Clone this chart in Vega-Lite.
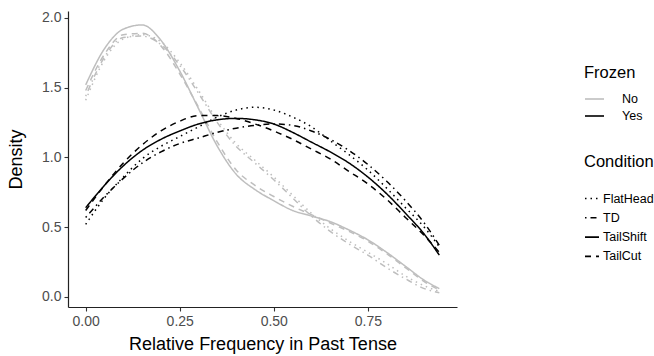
{
  "$schema": "https://vega.github.io/schema/vega-lite/v6.json",
  "width": 389,
  "height": 296,
  "autosize": {"type": "none"},
  "padding": {"left": 68, "top": 11, "right": 197, "bottom": 49},
  "background": "white",
  "config": {
    "view": {"stroke": null},
    "font": "Liberation Sans",
    "axis": {"grid": false, "domainColor": "#222222", "domainWidth": 1.2, "tickColor": "#333333", "tickWidth": 1.1, "tickSize": 4, "labelColor": "#4d4d4d", "labelFontSize": 14, "labelFont": "Liberation Sans", "titleFont": "Liberation Sans", "titleFontSize": 18, "titleFontWeight": "normal", "titleColor": "#000000", "labelPadding": 3},
    "legend": {"titleFont": "Liberation Sans", "labelFont": "Liberation Sans", "titleFontSize": 16.5, "titleFontWeight": "normal", "titleColor": "#000000", "labelFontSize": 12.5, "labelColor": "#000000", "symbolType": "stroke", "symbolStrokeWidth": 1.6}
  },
  "data": {"values": [
    {"x":0,"y":1.52,"Frozen":"No","Condition":"TailShift"},{"x":0.05,"y":1.78,"Frozen":"No","Condition":"TailShift"},{"x":0.1,"y":1.92,"Frozen":"No","Condition":"TailShift"},{"x":0.15,"y":1.95,"Frozen":"No","Condition":"TailShift"},{"x":0.2,"y":1.84,"Frozen":"No","Condition":"TailShift"},{"x":0.25,"y":1.62,"Frozen":"No","Condition":"TailShift"},{"x":0.3,"y":1.35,"Frozen":"No","Condition":"TailShift"},{"x":0.35,"y":1.08,"Frozen":"No","Condition":"TailShift"},{"x":0.4,"y":0.88,"Frozen":"No","Condition":"TailShift"},{"x":0.45,"y":0.77,"Frozen":"No","Condition":"TailShift"},{"x":0.5,"y":0.69,"Frozen":"No","Condition":"TailShift"},{"x":0.55,"y":0.62,"Frozen":"No","Condition":"TailShift"},{"x":0.6,"y":0.58,"Frozen":"No","Condition":"TailShift"},{"x":0.65,"y":0.54,"Frozen":"No","Condition":"TailShift"},{"x":0.7,"y":0.48,"Frozen":"No","Condition":"TailShift"},{"x":0.75,"y":0.41,"Frozen":"No","Condition":"TailShift"},{"x":0.8,"y":0.32,"Frozen":"No","Condition":"TailShift"},{"x":0.85,"y":0.22,"Frozen":"No","Condition":"TailShift"},{"x":0.9,"y":0.12,"Frozen":"No","Condition":"TailShift"},{"x":0.94,"y":0.06,"Frozen":"No","Condition":"TailShift"},
    {"x":0,"y":1.48,"Frozen":"No","Condition":"TailCut"},{"x":0.05,"y":1.74,"Frozen":"No","Condition":"TailCut"},{"x":0.1,"y":1.88,"Frozen":"No","Condition":"TailCut"},{"x":0.15,"y":1.89,"Frozen":"No","Condition":"TailCut"},{"x":0.2,"y":1.8,"Frozen":"No","Condition":"TailCut"},{"x":0.25,"y":1.6,"Frozen":"No","Condition":"TailCut"},{"x":0.3,"y":1.36,"Frozen":"No","Condition":"TailCut"},{"x":0.35,"y":1.11,"Frozen":"No","Condition":"TailCut"},{"x":0.4,"y":0.91,"Frozen":"No","Condition":"TailCut"},{"x":0.45,"y":0.8,"Frozen":"No","Condition":"TailCut"},{"x":0.5,"y":0.72,"Frozen":"No","Condition":"TailCut"},{"x":0.55,"y":0.65,"Frozen":"No","Condition":"TailCut"},{"x":0.6,"y":0.59,"Frozen":"No","Condition":"TailCut"},{"x":0.65,"y":0.53,"Frozen":"No","Condition":"TailCut"},{"x":0.7,"y":0.47,"Frozen":"No","Condition":"TailCut"},{"x":0.75,"y":0.4,"Frozen":"No","Condition":"TailCut"},{"x":0.8,"y":0.31,"Frozen":"No","Condition":"TailCut"},{"x":0.85,"y":0.21,"Frozen":"No","Condition":"TailCut"},{"x":0.9,"y":0.11,"Frozen":"No","Condition":"TailCut"},{"x":0.94,"y":0.05,"Frozen":"No","Condition":"TailCut"},
    {"x":0,"y":1.41,"Frozen":"No","Condition":"FlatHead"},{"x":0.05,"y":1.7,"Frozen":"No","Condition":"FlatHead"},{"x":0.1,"y":1.85,"Frozen":"No","Condition":"FlatHead"},{"x":0.15,"y":1.88,"Frozen":"No","Condition":"FlatHead"},{"x":0.2,"y":1.83,"Frozen":"No","Condition":"FlatHead"},{"x":0.25,"y":1.68,"Frozen":"No","Condition":"FlatHead"},{"x":0.3,"y":1.48,"Frozen":"No","Condition":"FlatHead"},{"x":0.35,"y":1.27,"Frozen":"No","Condition":"FlatHead"},{"x":0.4,"y":1.1,"Frozen":"No","Condition":"FlatHead"},{"x":0.45,"y":0.98,"Frozen":"No","Condition":"FlatHead"},{"x":0.5,"y":0.86,"Frozen":"No","Condition":"FlatHead"},{"x":0.55,"y":0.73,"Frozen":"No","Condition":"FlatHead"},{"x":0.6,"y":0.6,"Frozen":"No","Condition":"FlatHead"},{"x":0.65,"y":0.49,"Frozen":"No","Condition":"FlatHead"},{"x":0.7,"y":0.4,"Frozen":"No","Condition":"FlatHead"},{"x":0.75,"y":0.32,"Frozen":"No","Condition":"FlatHead"},{"x":0.8,"y":0.24,"Frozen":"No","Condition":"FlatHead"},{"x":0.85,"y":0.15,"Frozen":"No","Condition":"FlatHead"},{"x":0.9,"y":0.08,"Frozen":"No","Condition":"FlatHead"},{"x":0.94,"y":0.04,"Frozen":"No","Condition":"FlatHead"},
    {"x":0,"y":1.44,"Frozen":"No","Condition":"TD"},{"x":0.05,"y":1.72,"Frozen":"No","Condition":"TD"},{"x":0.1,"y":1.86,"Frozen":"No","Condition":"TD"},{"x":0.15,"y":1.87,"Frozen":"No","Condition":"TD"},{"x":0.2,"y":1.81,"Frozen":"No","Condition":"TD"},{"x":0.25,"y":1.66,"Frozen":"No","Condition":"TD"},{"x":0.3,"y":1.46,"Frozen":"No","Condition":"TD"},{"x":0.35,"y":1.25,"Frozen":"No","Condition":"TD"},{"x":0.4,"y":1.08,"Frozen":"No","Condition":"TD"},{"x":0.45,"y":0.96,"Frozen":"No","Condition":"TD"},{"x":0.5,"y":0.84,"Frozen":"No","Condition":"TD"},{"x":0.55,"y":0.71,"Frozen":"No","Condition":"TD"},{"x":0.6,"y":0.58,"Frozen":"No","Condition":"TD"},{"x":0.65,"y":0.47,"Frozen":"No","Condition":"TD"},{"x":0.7,"y":0.38,"Frozen":"No","Condition":"TD"},{"x":0.75,"y":0.3,"Frozen":"No","Condition":"TD"},{"x":0.8,"y":0.21,"Frozen":"No","Condition":"TD"},{"x":0.85,"y":0.13,"Frozen":"No","Condition":"TD"},{"x":0.9,"y":0.06,"Frozen":"No","Condition":"TD"},{"x":0.94,"y":0.03,"Frozen":"No","Condition":"TD"},
    {"x":0,"y":0.64,"Frozen":"Yes","Condition":"TailShift"},{"x":0.05,"y":0.8,"Frozen":"Yes","Condition":"TailShift"},{"x":0.1,"y":0.94,"Frozen":"Yes","Condition":"TailShift"},{"x":0.15,"y":1.05,"Frozen":"Yes","Condition":"TailShift"},{"x":0.2,"y":1.13,"Frozen":"Yes","Condition":"TailShift"},{"x":0.25,"y":1.19,"Frozen":"Yes","Condition":"TailShift"},{"x":0.3,"y":1.24,"Frozen":"Yes","Condition":"TailShift"},{"x":0.35,"y":1.27,"Frozen":"Yes","Condition":"TailShift"},{"x":0.4,"y":1.28,"Frozen":"Yes","Condition":"TailShift"},{"x":0.45,"y":1.27,"Frozen":"Yes","Condition":"TailShift"},{"x":0.5,"y":1.24,"Frozen":"Yes","Condition":"TailShift"},{"x":0.55,"y":1.18,"Frozen":"Yes","Condition":"TailShift"},{"x":0.6,"y":1.11,"Frozen":"Yes","Condition":"TailShift"},{"x":0.65,"y":1.04,"Frozen":"Yes","Condition":"TailShift"},{"x":0.7,"y":0.96,"Frozen":"Yes","Condition":"TailShift"},{"x":0.75,"y":0.86,"Frozen":"Yes","Condition":"TailShift"},{"x":0.8,"y":0.74,"Frozen":"Yes","Condition":"TailShift"},{"x":0.85,"y":0.6,"Frozen":"Yes","Condition":"TailShift"},{"x":0.9,"y":0.45,"Frozen":"Yes","Condition":"TailShift"},{"x":0.94,"y":0.3,"Frozen":"Yes","Condition":"TailShift"},
    {"x":0,"y":0.62,"Frozen":"Yes","Condition":"TailCut"},{"x":0.05,"y":0.8,"Frozen":"Yes","Condition":"TailCut"},{"x":0.1,"y":0.96,"Frozen":"Yes","Condition":"TailCut"},{"x":0.15,"y":1.09,"Frozen":"Yes","Condition":"TailCut"},{"x":0.2,"y":1.19,"Frozen":"Yes","Condition":"TailCut"},{"x":0.25,"y":1.26,"Frozen":"Yes","Condition":"TailCut"},{"x":0.3,"y":1.3,"Frozen":"Yes","Condition":"TailCut"},{"x":0.35,"y":1.3,"Frozen":"Yes","Condition":"TailCut"},{"x":0.4,"y":1.28,"Frozen":"Yes","Condition":"TailCut"},{"x":0.45,"y":1.24,"Frozen":"Yes","Condition":"TailCut"},{"x":0.5,"y":1.19,"Frozen":"Yes","Condition":"TailCut"},{"x":0.55,"y":1.13,"Frozen":"Yes","Condition":"TailCut"},{"x":0.6,"y":1.06,"Frozen":"Yes","Condition":"TailCut"},{"x":0.65,"y":0.99,"Frozen":"Yes","Condition":"TailCut"},{"x":0.7,"y":0.9,"Frozen":"Yes","Condition":"TailCut"},{"x":0.75,"y":0.81,"Frozen":"Yes","Condition":"TailCut"},{"x":0.8,"y":0.7,"Frozen":"Yes","Condition":"TailCut"},{"x":0.85,"y":0.57,"Frozen":"Yes","Condition":"TailCut"},{"x":0.9,"y":0.44,"Frozen":"Yes","Condition":"TailCut"},{"x":0.94,"y":0.32,"Frozen":"Yes","Condition":"TailCut"},
    {"x":0,"y":0.52,"Frozen":"Yes","Condition":"FlatHead"},{"x":0.05,"y":0.71,"Frozen":"Yes","Condition":"FlatHead"},{"x":0.1,"y":0.86,"Frozen":"Yes","Condition":"FlatHead"},{"x":0.15,"y":0.99,"Frozen":"Yes","Condition":"FlatHead"},{"x":0.2,"y":1.08,"Frozen":"Yes","Condition":"FlatHead"},{"x":0.25,"y":1.15,"Frozen":"Yes","Condition":"FlatHead"},{"x":0.3,"y":1.22,"Frozen":"Yes","Condition":"FlatHead"},{"x":0.35,"y":1.29,"Frozen":"Yes","Condition":"FlatHead"},{"x":0.4,"y":1.34,"Frozen":"Yes","Condition":"FlatHead"},{"x":0.45,"y":1.36,"Frozen":"Yes","Condition":"FlatHead"},{"x":0.5,"y":1.34,"Frozen":"Yes","Condition":"FlatHead"},{"x":0.55,"y":1.29,"Frozen":"Yes","Condition":"FlatHead"},{"x":0.6,"y":1.22,"Frozen":"Yes","Condition":"FlatHead"},{"x":0.65,"y":1.12,"Frozen":"Yes","Condition":"FlatHead"},{"x":0.7,"y":1.02,"Frozen":"Yes","Condition":"FlatHead"},{"x":0.75,"y":0.91,"Frozen":"Yes","Condition":"FlatHead"},{"x":0.8,"y":0.78,"Frozen":"Yes","Condition":"FlatHead"},{"x":0.85,"y":0.64,"Frozen":"Yes","Condition":"FlatHead"},{"x":0.9,"y":0.5,"Frozen":"Yes","Condition":"FlatHead"},{"x":0.94,"y":0.36,"Frozen":"Yes","Condition":"FlatHead"},
    {"x":0,"y":0.57,"Frozen":"Yes","Condition":"TD"},{"x":0.05,"y":0.72,"Frozen":"Yes","Condition":"TD"},{"x":0.1,"y":0.85,"Frozen":"Yes","Condition":"TD"},{"x":0.15,"y":0.96,"Frozen":"Yes","Condition":"TD"},{"x":0.2,"y":1.04,"Frozen":"Yes","Condition":"TD"},{"x":0.25,"y":1.1,"Frozen":"Yes","Condition":"TD"},{"x":0.3,"y":1.14,"Frozen":"Yes","Condition":"TD"},{"x":0.35,"y":1.18,"Frozen":"Yes","Condition":"TD"},{"x":0.4,"y":1.21,"Frozen":"Yes","Condition":"TD"},{"x":0.45,"y":1.23,"Frozen":"Yes","Condition":"TD"},{"x":0.5,"y":1.24,"Frozen":"Yes","Condition":"TD"},{"x":0.55,"y":1.23,"Frozen":"Yes","Condition":"TD"},{"x":0.6,"y":1.19,"Frozen":"Yes","Condition":"TD"},{"x":0.65,"y":1.13,"Frozen":"Yes","Condition":"TD"},{"x":0.7,"y":1.05,"Frozen":"Yes","Condition":"TD"},{"x":0.75,"y":0.95,"Frozen":"Yes","Condition":"TD"},{"x":0.8,"y":0.83,"Frozen":"Yes","Condition":"TD"},{"x":0.85,"y":0.69,"Frozen":"Yes","Condition":"TD"},{"x":0.9,"y":0.53,"Frozen":"Yes","Condition":"TD"},{"x":0.94,"y":0.37,"Frozen":"Yes","Condition":"TD"}
  ]},
  "mark": {"type": "line", "interpolate": "monotone", "strokeWidth": 1.5, "strokeCap": "butt"},
  "encoding": {
    "x": {"field": "x", "type": "quantitative", "title": "Relative Frequency in Past Tense",
      "scale": {"domain": [-0.047, 0.987], "nice": false, "zero": false},
      "axis": {"values": [0, 0.25, 0.5, 0.75], "format": ".2f", "titlePadding": 7}},
    "y": {"field": "y", "type": "quantitative", "title": "Density",
      "scale": {"domain": [-0.072, 2.05], "nice": false, "zero": false},
      "axis": {"values": [0, 0.5, 1, 1.5, 2], "format": ".1f", "titlePadding": 16}},
    "color": {"field": "Frozen", "type": "nominal",
      "scale": {"domain": ["No", "Yes"], "range": ["#bebebe", "#000000"]},
      "legend": {"orient": "none", "legendX": 516, "legendY": 54, "symbolSize": 361, "rowPadding": 0, "titlePadding": 7, "labelOffset": 17}},
    "strokeDash": {"field": "Condition", "type": "nominal",
      "scale": {"domain": ["FlatHead", "TD", "TailShift", "TailCut"], "range": [[1.5, 4], [1.5, 4, 6, 4], [1, 0], [6, 5]]},
      "legend": {"orient": "none", "legendX": 516, "legendY": 143, "symbolSize": 196, "rowPadding": 4.3, "titlePadding": 20, "labelOffset": 3, "symbolStrokeColor": "#000000"}},
    "detail": {"field": "Condition"}
  }
}
